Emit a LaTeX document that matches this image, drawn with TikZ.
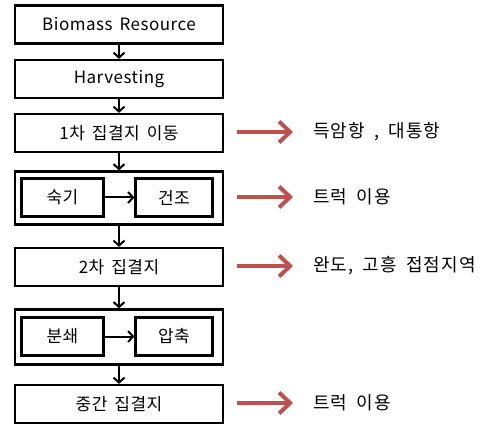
\documentclass[tikz,border=0pt]{standalone}
\usepackage{fontspec}
\setmainfont[WordSpace=1.6,LetterSpace=3]{Noto Sans CJK KR}
\newfontfamily\noteFont[WordSpace=1.8,LetterSpace=6]{Noto Sans CJK KR}
\usepackage{xcolor}
\usetikzlibrary{positioning,arrows.meta}
\definecolor{arrowRed}{HTML}{C0504D}
\tikzstyle{stepBox}  =[draw, line width=2.2pt, minimum width=208pt, minimum height=38pt, inner sep=0pt, font=\fontsize{17}{19}\selectfont]
\tikzstyle{groupBox} =[draw, line width=2.2pt, minimum width=208pt, inner sep=0pt]
\tikzstyle{subBox}   =[draw, line width=2.2pt, minimum height=38pt, inner sep=0pt, font=\fontsize{17}{19}\selectfont]
\tikzstyle{noteText} =[anchor=west, inner sep=0pt, font=\noteFont\fontsize{18}{20}\selectfont]
\tikzset{flow/.style={draw, line width=2pt, -{Straight Barb[length=5pt,width=11pt]}},
    redFlow/.style={draw=arrowRed, line width=4pt, -{Straight Barb[length=11pt,width=21pt]}}
}

\begin{document}
\begin{tikzpicture}[x=1pt,y=-1pt]
      \useasboundingbox (0,0) rectangle (493,425);
      \node[stepBox] (1) at (119,24.5) {Biomass Resource};
      \node[stepBox] (2) at (119,79) {Harvesting};
      \node[stepBox] (3) at (119,133) {1차 집결지 이동};
      \node[groupBox, minimum height=53pt] (4) at (119,198) {};
      \node[subBox, minimum width=82pt] (4a) at (62.5,197.5) {숙기};
      \node[subBox, minimum width=77pt] (4b) at (174,197.5) {건조};
      \node[stepBox] (5) at (119,267) {2차 집결지};
      \node[groupBox, minimum height=55pt] (6) at (119,337) {};
      \node[subBox, minimum width=82pt] (6a) at (62.5,336.5) {분쇄};
      \node[subBox, minimum width=77pt] (6b) at (174,336.5) {압축};
      \node[stepBox] (7) at (119,404) {중간 집결지};
      \node[noteText] (n3) at (313,132) {득암항 , 대통항};
      \node[noteText] (n4) at (313,197) {트럭 이용};
      \node[noteText] (n5) at (313,266) {완도, 고흥 접점지역};
      \node[noteText] (n7) at (313,403) {트럭 이용};
      \draw[flow] (1) -- (2);
      \draw[flow] (2) -- (3);
      \draw[flow] (3) -- (4);
      \draw[flow] (4a) -- (4b);
      \draw[flow] (4) -- (5);
      \draw[flow] (5) -- (6);
      \draw[flow] (6a) -- (6b);
      \draw[flow] (6) -- (7);
      \draw[redFlow] ([xshift=13pt]3.east |- n3.west) -- ([xshift=-20pt]n3.west);
      \draw[redFlow] ([xshift=13pt]4.east |- n4.west) -- ([xshift=-20pt]n4.west);
      \draw[redFlow] ([xshift=13pt]5.east |- n5.west) -- ([xshift=-20pt]n5.west);
      \draw[redFlow] ([xshift=13pt]7.east |- n7.west) -- ([xshift=-20pt]n7.west);
\end{tikzpicture}
\end{document}
